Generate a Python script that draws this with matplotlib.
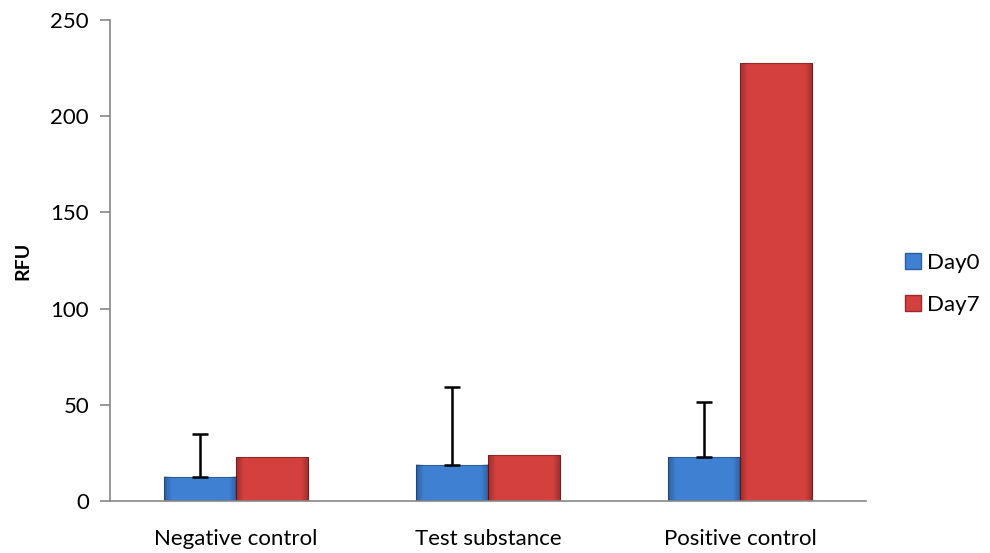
import numpy as np
import matplotlib
matplotlib.use('Agg')
import matplotlib.pyplot as plt
from matplotlib.lines import Line2D

plt.rcParams['font.family'] = ['Lato', 'DejaVu Sans']

# data
categories = ['Negative control', 'Test substance', 'Positive control']
series_names = ['Day0', 'Day7']
day0 = [12.6, 18.9, 22.7]
day7 = [22.7, 23.7, 227.5]
day0_err = [22.2, 40.2, 28.8]   # upper error only
y_ticks = [0, 50, 100, 150, 200, 250]

blue = '#3f80d2'
blue_edge = '#2c5f9e'
red = '#d4403d'
red_edge = '#9c2a28'
axis_grey = '#868686'

fig = plt.figure(figsize=(9.9, 5.53), dpi=100)
ax = fig.add_axes([0.111, 0.094, 0.764, 0.870])

x = np.arange(len(categories))
w = 0.286

bars0 = ax.bar(x - w / 2, day0, w, color=blue, edgecolor=blue_edge, linewidth=0.8, zorder=2)
bars7 = ax.bar(x + w / 2, day7, w, color=red, edgecolor=red_edge, linewidth=0.8, zorder=2)


def shade(bar):
    # soft bevel: darker toward the sides
    x0, y0 = bar.get_x(), bar.get_y()
    bw, bh = bar.get_width(), bar.get_height()
    u = np.linspace(0, 1, 60)
    side = np.clip(np.abs(u - 0.5) * 2 - 0.8, 0, None) / 0.2
    img = np.zeros((2, 60, 4))
    img[..., 3] = side * 0.25
    ax.imshow(img, extent=(x0, x0 + bw, y0, y0 + bh), aspect='auto',
              interpolation='bilinear', zorder=2.1, clip_path=bar, clip_on=True)


for b in list(bars0) + list(bars7):
    shade(b)

ax.errorbar(x - w / 2, day0, yerr=[np.zeros(len(day0)), day0_err], fmt='none',
            ecolor='black', elinewidth=1.8, capsize=6, capthick=1.8, zorder=3)

ax.set_xlim(-0.5, 2.5)
ax.set_ylim(0, 250)
ax.set_yticks(y_ticks)
ax.set_xticks(x)
ax.set_xticklabels(categories)

ax.spines['top'].set_visible(False)
ax.spines['right'].set_visible(False)
for s in ['left', 'bottom']:
    ax.spines[s].set_color(axis_grey)
    ax.spines[s].set_linewidth(1.2)
ax.tick_params(axis='y', direction='out', length=7, color=axis_grey, width=1.2,
               labelsize=16, pad=8)
ax.tick_params(axis='x', length=0, labelsize=16, pad=20)

ax.set_ylabel('RFU', fontsize=14, fontweight='bold', labelpad=14)

handles = [Line2D([], [], marker='s', linestyle='none', markersize=11,
                  markerfacecolor=blue, markeredgecolor=blue_edge),
           Line2D([], [], marker='s', linestyle='none', markersize=11,
                  markerfacecolor=red, markeredgecolor=red_edge)]
fig.legend(handles, series_names, loc='center left', bbox_to_anchor=(0.898, 0.487),
           frameon=False, fontsize=16, handletextpad=0.1, labelspacing=1.0,
           handlelength=1.0, borderaxespad=0.2)

fig.savefig('out.png', dpi=100)
